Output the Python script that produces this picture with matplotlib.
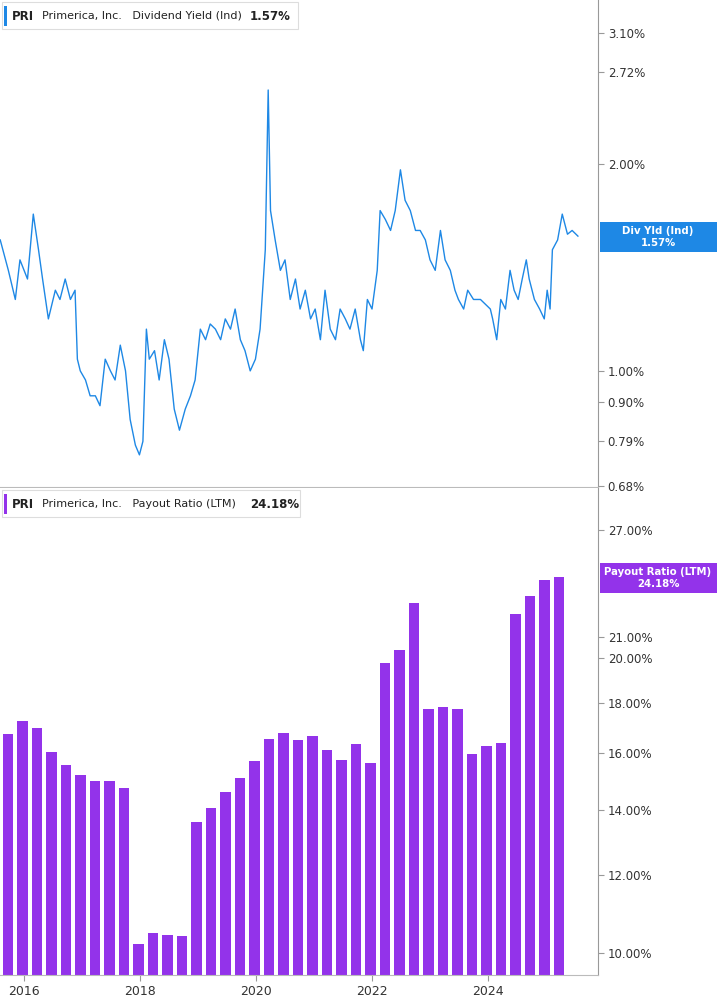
import matplotlib
matplotlib.use("Agg")
import matplotlib.pyplot as plt
import numpy as np
from matplotlib.ticker import FixedLocator, NullLocator

# Dividend yield (approx, sampled)
dy_years = [2015.59,2015.73,2015.85,2015.93,2016.06,2016.16,2016.25,2016.32,2016.42,2016.54,2016.62,2016.71,2016.80,2016.88,2016.92,2016.97,2017.06,2017.14,2017.23,2017.31,2017.40,2017.49,2017.57,2017.66,2017.75,2017.83,2017.92,2017.99,2018.05,2018.11,2018.16,2018.25,2018.33,2018.42,2018.50,2018.59,2018.68,2018.78,2018.87,2018.95,2019.04,2019.13,2019.21,2019.30,2019.39,2019.47,2019.56,2019.64,2019.73,2019.81,2019.90,2019.99,2020.07,2020.16,2020.21,2020.25,2020.33,2020.42,2020.50,2020.59,2020.68,2020.76,2020.85,2020.94,2021.02,2021.11,2021.19,2021.28,2021.37,2021.45,2021.54,2021.62,2021.71,2021.80,2021.85,2021.92,2022.00,2022.09,2022.14,2022.23,2022.32,2022.40,2022.49,2022.57,2022.66,2022.75,2022.83,2022.92,2023.00,2023.09,2023.18,2023.26,2023.35,2023.43,2023.49,2023.58,2023.65,2023.75,2023.87,2024.04,2024.08,2024.15,2024.22,2024.30,2024.38,2024.45,2024.52,2024.59,2024.66,2024.71,2024.80,2024.89,2024.97,2025.02,2025.07,2025.11,2025.20,2025.28,2025.37,2025.45,2025.55]
dy_vals = [1.55,1.40,1.27,1.45,1.36,1.69,1.50,1.36,1.19,1.31,1.27,1.36,1.27,1.31,1.04,1.00,0.97,0.92,0.92,0.89,1.04,1.00,0.97,1.09,1.00,0.85,0.78,0.755,0.79,1.15,1.04,1.07,0.97,1.11,1.04,0.88,0.82,0.88,0.92,0.97,1.15,1.11,1.17,1.15,1.11,1.19,1.15,1.23,1.11,1.07,1.00,1.04,1.15,1.50,2.56,1.71,1.55,1.40,1.45,1.27,1.36,1.23,1.31,1.19,1.23,1.11,1.31,1.15,1.11,1.23,1.19,1.15,1.23,1.11,1.07,1.27,1.23,1.40,1.71,1.66,1.60,1.71,1.96,1.77,1.71,1.60,1.60,1.55,1.45,1.40,1.60,1.45,1.40,1.31,1.27,1.23,1.31,1.27,1.27,1.23,1.19,1.11,1.27,1.23,1.40,1.31,1.27,1.36,1.45,1.36,1.27,1.23,1.19,1.31,1.23,1.50,1.55,1.69,1.58,1.60,1.57]

# Payout ratio quarterly
pr_years = [2015.725 + 0.25*i for i in range(39)]
pr_vals = [16.71,17.23,16.96,16.03,15.54,15.18,14.97,14.99,14.73,10.21,10.48,10.43,10.41,13.60,14.05,14.59,15.08,15.69,16.52,16.76,16.48,16.63,16.10,15.73,16.33,15.62,19.75,20.36,22.73,17.73,17.82,17.73,15.95,16.25,16.37,22.15,23.11,23.99,24.18]

yr_ticks = [2016, 2018, 2020, 2022, 2024]
dy_ticks = [0.68, 0.79, 0.90, 1.00, 2.00, 2.72, 3.10]
pr_ticks = [10, 12, 14, 16, 18, 20, 21, 27]

BLUE = "#1e88e5"
PURPLE = "#9333ea"
W, H = 717, 1005
fig = plt.figure(figsize=(W/100, H/100), dpi=100)
xl = (2015.586, 2015.586 + 598/58)

ax1 = fig.add_axes([0, 1-487/H, 598/W, 487/H])
ax2 = fig.add_axes([0, 1-975/H, 598/W, 487/H])

ax1.plot(dy_years, dy_vals, color=BLUE, lw=1)
ax1.set_yscale("log")
ax1.set_ylim(0.678, 3.46)
ax2.bar(pr_years, pr_vals, width=0.25*0.72, color=PURPLE)
ax2.set_yscale("log")
ax2.set_ylim(9.5, 29.8)

for ax, ticks, fmt in [(ax1, dy_ticks, "{:.2f}%"), (ax2, pr_ticks, "{:.2f}%")]:
    ax.set_xlim(*xl)
    ax.yaxis.tick_right()
    ax.yaxis.set_major_locator(FixedLocator(ticks))
    ax.yaxis.set_minor_locator(NullLocator())
    ax.set_yticklabels([fmt.format(t) for t in ticks], fontsize=8.5, color="#333333")
    ax.tick_params(axis="y", length=4, color="#999999", pad=3)
    for s in ["top", "left"]:
        ax.spines[s].set_visible(False)
    ax.spines["right"].set_color("#999999")
    ax.spines["bottom"].set_color("#bbbbbb")
ax1.set_xticks([])
ax2.xaxis.set_major_locator(FixedLocator(yr_ticks))
ax2.set_xticklabels([str(y) for y in yr_ticks], fontsize=9, color="#333333")
ax2.tick_params(axis="x", length=4, color="#999999")

# legends
def legend(y, color, text_main, val, w, vx):
    fig.patches.append(plt.Rectangle((2/W, 1-(y+13)/H), w/W, 27/H, transform=fig.transFigure,
                                     facecolor="white", edgecolor="#dddddd", lw=0.8, zorder=5))
    fig.patches.append(plt.Rectangle((4/W, 1-(y+10)/H), 3/W, 20/H, transform=fig.transFigure,
                                     facecolor=color, edgecolor="none", zorder=6))
    fig.text(12/W, 1-y/H, "PRI", fontsize=8.5, fontweight="bold", va="center", zorder=7, color="#222222")
    fig.text(42/W, 1-y/H, text_main, fontsize=8, va="center", zorder=7, color="#222222")
    fig.text(vx/W, 1-y/H, val, fontsize=8.5, fontweight="bold", va="center", zorder=7, color="#222222")

legend(16, BLUE, "Primerica, Inc.   Dividend Yield (Ind)", "1.57%", 296, 250)
legend(504, PURPLE, "Primerica, Inc.   Payout Ratio (LTM)", "24.18%", 298, 250)

def tag(y, color, l1, l2):
    fig.patches.append(plt.Rectangle((600/W, 1-(y+15)/H), 117/W, 30/H, transform=fig.transFigure,
                                     facecolor=color, edgecolor="none", zorder=5))
    fig.text(658/W, 1-(y-6)/H, l1, fontsize=7.3, color="white", fontweight="bold", ha="center", va="center", zorder=6)
    fig.text(658/W, 1-(y+6)/H, l2, fontsize=7.3, color="white", fontweight="bold", ha="center", va="center", zorder=6)

tag(237, BLUE, "Div Yld (Ind)", "1.57%")
tag(578, PURPLE, "Payout Ratio (LTM)", "24.18%")

fig.savefig("out.png", dpi=100)
